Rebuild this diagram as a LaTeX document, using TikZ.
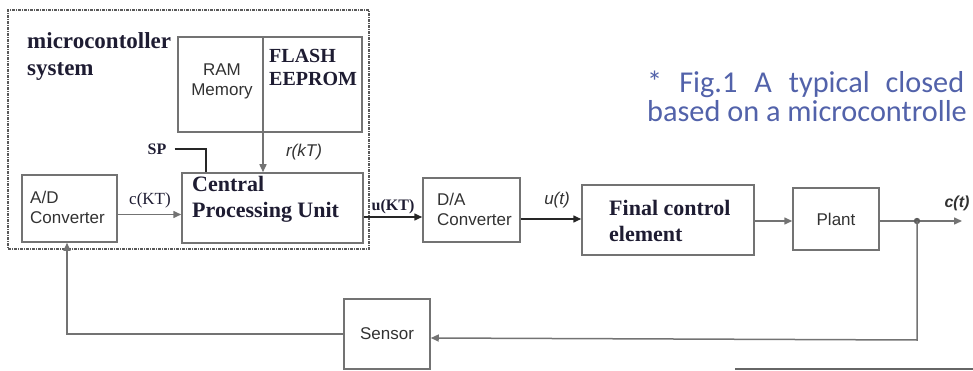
\documentclass[tikz,border=0pt]{standalone}
\usepackage{fontspec}
\setmainfont{Liberation Serif}
\setsansfont{Liberation Sans}
\newfontfamily\capfont{Carlito}
\usetikzlibrary{arrows.meta,calc}
\definecolor{boxgray}{RGB}{115,115,115}
\definecolor{txtgray}{RGB}{50,50,50}
\definecolor{inkdark}{RGB}{30,28,50}
\definecolor{capblue}{RGB}{82,98,170}
\tikzset{
  blk/.style={draw=boxgray, line width=1.5pt, inner sep=0pt},
  sanslbl/.style={font=\sffamily\fontsize{17}{20}\selectfont, text=txtgray, inner sep=0pt},
  seriflbl/.style={font=\bfseries\fontsize{22}{26}\selectfont, text=inkdark, inner sep=0pt, align=left},
  smallserif/.style={font=\fontsize{16}{18}\selectfont, text=inkdark, inner sep=0pt},
  itlbl/.style={font=\sffamily\itshape\fontsize{17}{19}\selectfont, text=txtgray, inner sep=0pt},
  conn/.style={draw=boxgray, line width=1.5pt},
  arr/.style={conn, -{Triangle[length=8pt,width=7pt]}},
  mcbox/.style={draw=black!65, line width=1.8pt, dash pattern=on 3pt off 1pt on 1pt off 1pt},
  captxt/.style={font=\capfont\fontsize{30.3}{31}\selectfont, text=capblue, anchor=base west, inner sep=0pt},
}
\begin{document}
\begin{tikzpicture}[x=1pt,y=-1pt]
\useasboundingbox (0,0) rectangle (973,371);
\clip (0,0) rectangle (973,371);

% microcontroller system frame
\node[mcbox, minimum width=361pt, minimum height=239pt, inner sep=0pt] (mc) at (188.5,129.5) {};
\node[seriflbl, font=\bfseries\fontsize{23}{27}\selectfont, anchor=west] (mctxt) at (27,57) {microcontoller\\system};

% memory block
\node[blk, minimum width=184pt, minimum height=95pt] (mem) at (270,84.5) {};
\coordinate (div) at (263,37);
\node[sanslbl, align=center] (ram) at (222,81) {RAM\\Memory};
\node[seriflbl, font=\bfseries\fontsize{20}{23}\selectfont, anchor=west] (flash) at (269,67) {FLASH\\EEPROM};

% blocks
\node[blk, minimum width=95pt, minimum height=67pt] (ad) at (69.5,208.5) {};
\node[sanslbl, align=left, anchor=west] (adtxt) at (30,207) {A/D\\Converter};
\node[blk, minimum width=181pt, minimum height=70pt] (cpu) at (272.5,208) {};
\node[seriflbl, anchor=west] (cputxt) at (192,199) {Central\\Processing Unit};
\node[blk, minimum width=97pt, minimum height=64pt] (da) at (471.5,210) {};
\node[sanslbl, align=left, anchor=west] (datxt) at (437,209) {D/A\\Converter};
\node[blk, minimum width=172pt, minimum height=70pt] (fce) at (668,220) {};
\node[seriflbl, anchor=west] (fcetxt) at (609,221) {Final control\\element};
\node[blk, minimum width=86pt, minimum height=62pt, sanslbl] (plant) at (836,219) {Plant};
\node[blk, minimum width=86pt, minimum height=70pt, sanslbl] (sensor) at (387,334) {Sensor};

% labels
\node[smallserif, font=\bfseries\fontsize{16}{18}\selectfont] (sp) at (157,149) {SP};
\node[itlbl] (rkt) at (304,152) {r(kT)};
\node[smallserif, font=\fontsize{17}{19}\selectfont] (ckt) at (150,200) {c(KT)};
\node[smallserif, font=\bfseries\fontsize{16}{18}\selectfont] (ukt) at (393,207) {u(KT)};
\node[itlbl] (ut) at (557,200) {u(t)};
\node[itlbl, font=\sffamily\bfseries\itshape\fontsize{16}{18}\selectfont] (ct) at (957,203) {c(t)};

% connectors
\coordinate (spc) at (206,149);
\draw[draw=black!85, line width=1.5pt] (sp.east) ++(8pt,0) -- (spc) -- (spc |- cpu.north);
\draw[conn] (div) -- (div |- mem.south);
\draw[arr] (div |- mem.south) -- (div |- cpu.north);
\draw[arr] ([yshift=-6pt]ad.east) -- ([yshift=-6pt]ad.east -| cpu.west);
\draw[draw=black!85, line width=1.5pt, -{Triangle[length=8pt,width=7pt]}] ([yshift=-9pt]cpu.east) -- ([yshift=-9pt]cpu.east -| da.west);
\draw[draw=black!85, line width=1.5pt, -{Triangle[length=8pt,width=7pt]}] ([yshift=-9pt]da.east) -- ([yshift=-9pt]da.east -| fce.west);
\draw[arr] ([yshift=-1pt]fce.east) -- ([yshift=-1pt]fce.east -| plant.west);
\coordinate (J) at (917,221);
\coordinate (out) at (962,221);
\draw[conn] (plant.east |- J) -- (J);
\draw[arr] (J) -- (out);
\fill[boxgray!80!black] (J) circle (3.2pt);
\coordinate (fbr) at (917,340);
\draw[arr] (J) -- (fbr) -- ([yshift=-4pt]sensor.east);
\coordinate (fbl) at (67,334);
\draw[arr] (sensor.west) -- (fbl) -- (fbl |- ad.south);

% bottom rule of next figure
\coordinate (bl) at (735,369);
\coordinate (br) at (973,369);
\draw[conn, draw=black!60] (bl) -- (br);

% caption
\node[captxt] (cap1) at (647,93) {*\hspace{17pt}Fig.1\hspace{17pt}A\hspace{17pt}typical\hspace{16pt}closed};
\node[captxt] (cap2) at (647,122) {based on a microcontrolle};
\end{tikzpicture}
\end{document}
